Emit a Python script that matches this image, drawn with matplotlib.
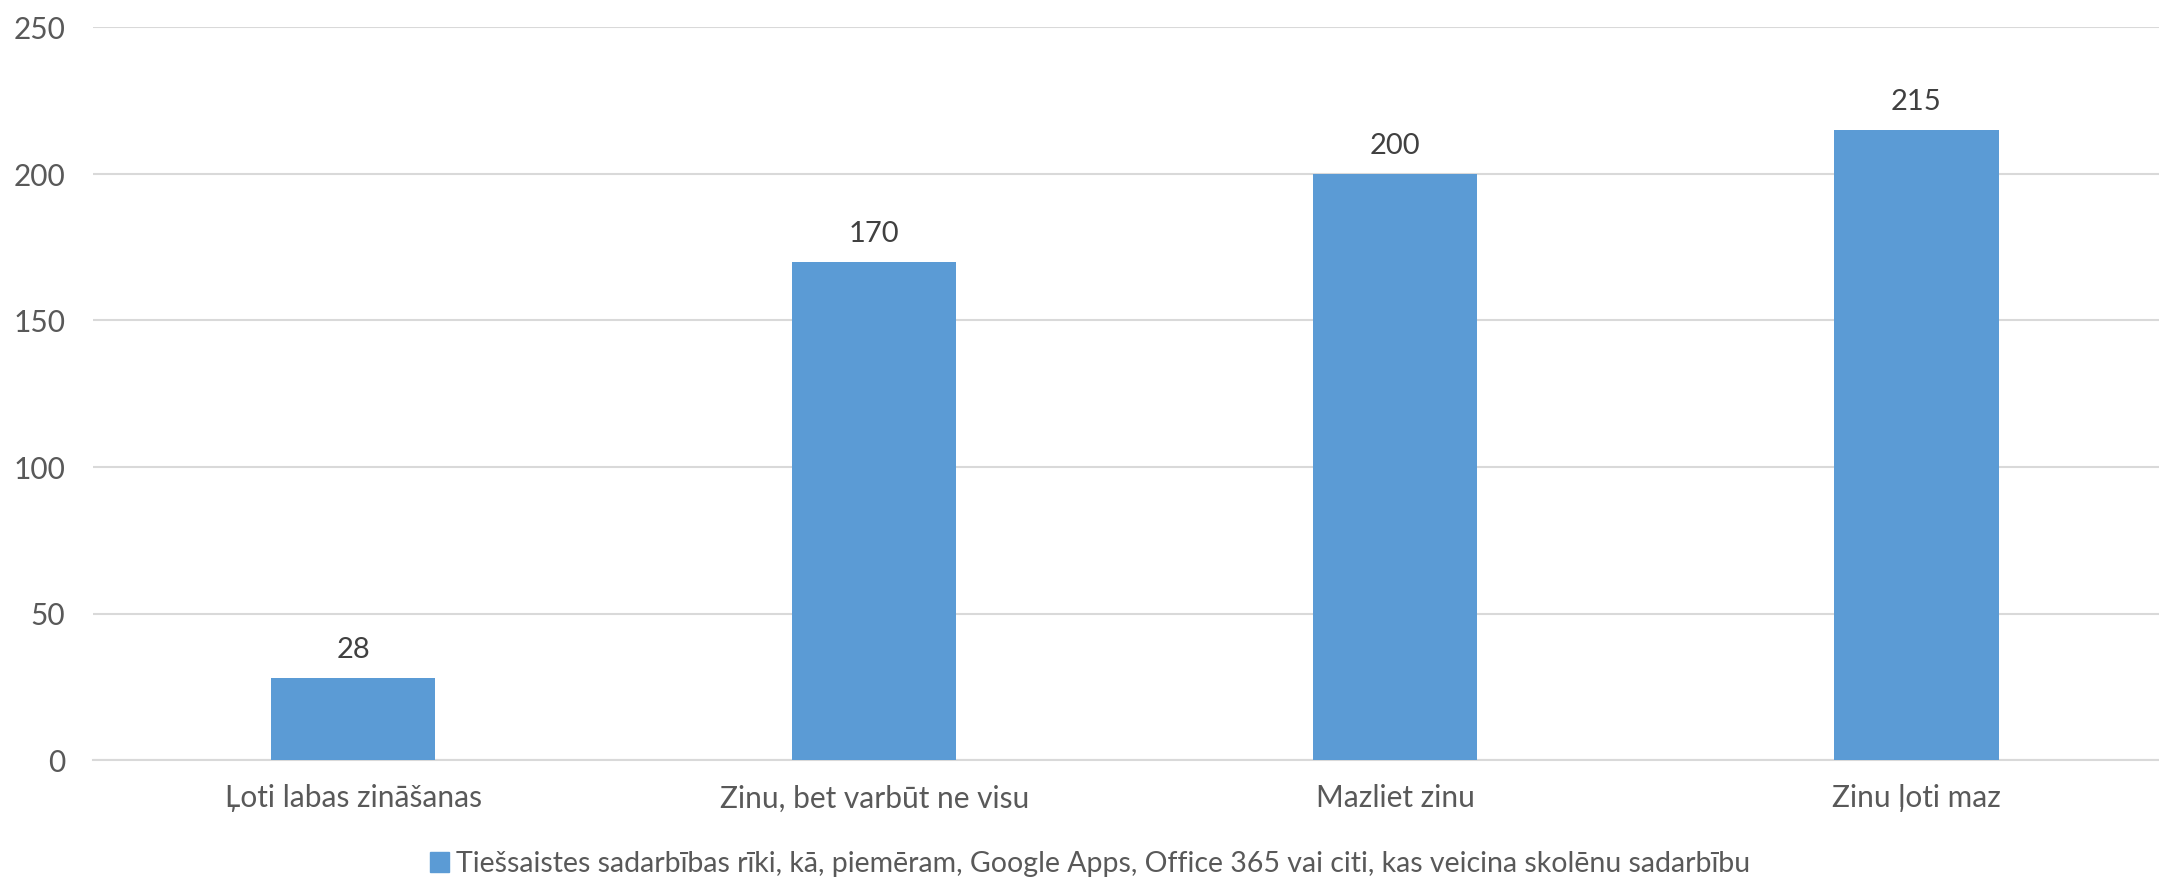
import matplotlib
matplotlib.use("Agg")
import matplotlib.pyplot as plt
from matplotlib.patches import Patch

categories = ["Ļoti labas zināšanas", "Zinu, bet varbūt ne visu", "Mazliet zinu", "Zinu ļoti maz"]
values = [28, 170, 200, 215]
series_name = "Tiešsaistes sadarbības rīki, kā, piemēram, Google Apps, Office 365 vai citi, kas veicina skolēnu sadarbību"
yticks = [0, 50, 100, 150, 200, 250]

plt.rcParams['font.family'] = ['Lato', 'DejaVu Sans']
W, H = 2159, 880
fig = plt.figure(figsize=(W/100, H/100), dpi=100)
left, right = 92.5, 2177
top, bottom = 27.5, 760
ax = fig.add_axes([left/W, 1-bottom/H, (right-left)/W, (bottom-top)/H])

x = range(len(categories))
bars = ax.bar(x, values, width=0.315, color="#5B9BD5", zorder=3)
ax.set_xlim(-0.5, len(categories)-0.5)
ax.set_ylim(0, 250)
ax.set_yticks(yticks)
ax.set_yticklabels([str(t) for t in yticks], fontsize=21.5, color="#595959")
ax.set_xticks(list(x))
ax.set_xticklabels(categories, fontsize=21.5, color="#595959")
ax.tick_params(axis='both', length=0)
ax.tick_params(axis='y', pad=19.5)
ax.tick_params(axis='x', pad=17.5)
ax.grid(axis='y', color="#D9D9D9", linewidth=1.5, zorder=0)
for s in ["top", "right", "left"]:
    ax.spines[s].set_visible(False)
ax.spines["bottom"].set_color("#D9D9D9")
ax.spines["bottom"].set_linewidth(1.5)

for xi, v in zip(x, values):
    ax.annotate(str(v), (xi, v), xytext=(0, 11), textcoords="offset points",
                ha="center", va="bottom", fontsize=21, color="#404040")

fig.legend(handles=[Patch(color="#5B9BD5", label=series_name)],
           loc="center", bbox_to_anchor=(1090/W, 1-864/H), frameon=False,
           fontsize=20.5, labelcolor="#595959", handlelength=0.65, handleheight=0.65,
           handletextpad=0.25)

fig.savefig("out.png", dpi=100)
